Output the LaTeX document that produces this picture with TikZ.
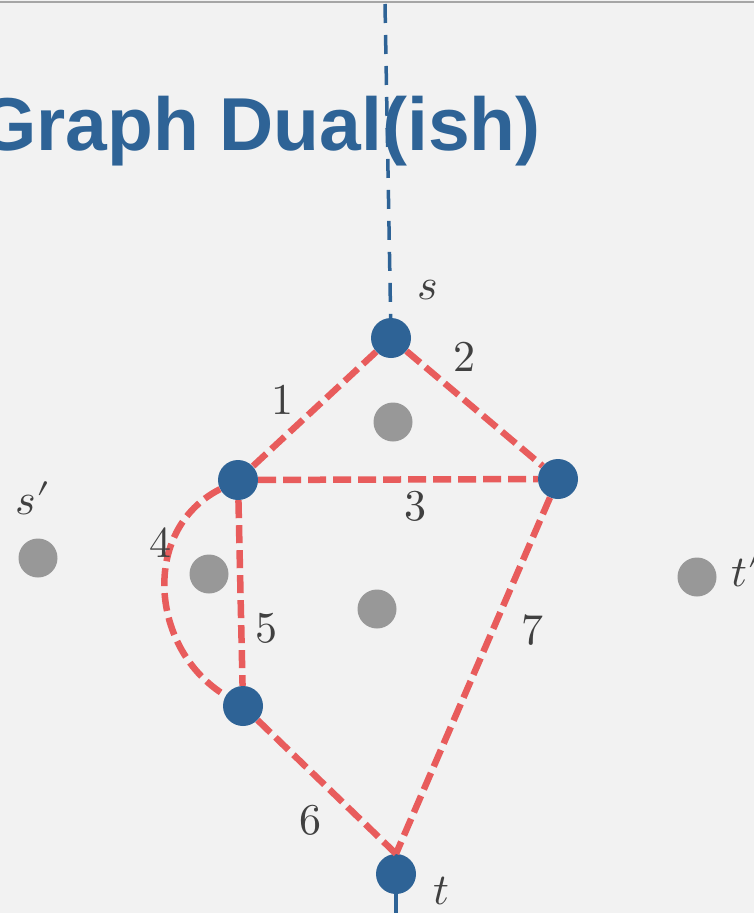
\documentclass[tikz,border=0pt]{standalone}
\usepackage{fontspec}
\usepackage{unicode-math}
\setmathfont{Latin Modern Math}
\newfontfamily\titlefont{Liberation Sans}
\usepackage{tikz}
\usetikzlibrary{positioning, calc}

\definecolor{slidebg}{RGB}{242,242,242}
\definecolor{dualblue}{RGB}{46,99,150}
\definecolor{cutred}{RGB}{232,92,92}
\definecolor{facegray}{RGB}{152,152,152}
\definecolor{labelgray}{RGB}{64,64,64}

\begin{document}
\begin{tikzpicture}[
    x=1pt, y=-1pt,
    vertex/.style={circle, fill=dualblue, minimum size=40pt, inner sep=0pt},
    face/.style={circle, fill=facegray, minimum size=39pt, inner sep=0pt},
    edge/.style={draw=cutred, line width=6.5pt, dash pattern=on 18pt off 7pt},
    axis/.style={draw=dualblue, line width=3.5pt, dash pattern=on 19pt off 12pt},
    lbl/.style={text=labelgray, font=\fontsize{44}{48}\selectfont, inner sep=0pt}
]

    % Background and frame
    \useasboundingbox (0,0) rectangle (754,913);
    \clip (0,0) rectangle (754,913);
    \fill[slidebg] (0,0) rectangle (754,913);
    \draw[gray!70, line width=2pt] (0,1.5) -- (754,1.5);

    % Title
    \node (title) [anchor=base west, inner sep=0pt, text=dualblue,
        font=\titlefont\bfseries\fontsize{75}{80}\selectfont] at (-22,150) {Graph Dual(ish)};

    % Faces (gray)
    \node (f1) [face] at (393,422) {};
    \node (f2) [face] at (209,574) {};
    \node (f3) [face] at (377,609) {};
    \node (sp) [face] at (38,558) {};
    \node (tp) [face] at (697,577) {};

    % Vertices (blue)
    \node (s) [vertex] at (391,338) {};
    \node (a) [vertex] at (238,480) {};
    \node (b) [vertex] at (558,479) {};
    \node (c) [vertex] at (243,706) {};
    \node (t) [vertex] at (396,874) {};

    % Open ends of the s--t axis
    \coordinate (top) at (385,4);
    \coordinate (bottom) at (396,930);
    \path [axis] (top) -- (s);
    \path [axis] (t) -- (bottom);

    % Cut edges
    \path [edge] (s) -- (a);
    \path [edge] (s) -- (b);
    \path [edge] (a) -- (b);
    \path [edge] (a) .. controls (140,530) and (150,650) .. (c);
    \path [edge] (a) -- (c);
    \path [edge] (c) -- (t.north);
    \path [edge] (b) -- (t.north);

    % Edge weights
    \node (w1) [lbl] at (282,400) {$1$};
    \node (w2) [lbl] at (464,357) {$2$};
    \node (w3) [lbl] at (415,506) {$3$};
    \node (w4) [lbl] at (160,543) {$4$};
    \node (w5) [lbl] at (266,628) {$5$};
    \node (w6) [lbl] at (310,820) {$6$};
    \node (w7) [lbl] at (533,630) {$7$};

    % Vertex labels
    \node (slab) [lbl] at (428,290) {$s$};
    \node (tlab) [lbl] at (441,891) {$t$};
    \node (splab) [lbl] at (33,498) {$s\prime$};
    \node (tplab) [lbl, anchor=west] at (731,570) {$t\prime$};

\end{tikzpicture}
\end{document}
